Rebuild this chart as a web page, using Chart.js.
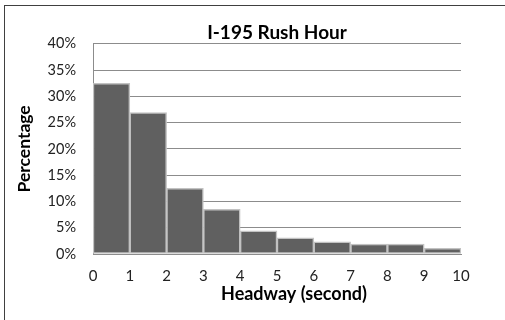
<!DOCTYPE html>
<html>
<head>
<meta charset="utf-8">
<script src="https://cdn.jsdelivr.net/npm/chart.js@4/dist/chart.umd.min.js"></script>
<style>
  html, body { margin: 0; padding: 0; background: #fff; overflow: hidden; }
  #frame { position: absolute; left: 4px; top: 5px; width: 700px; height: 500px;
           border-left: 1.5px solid #404040; border-top: 1.5px solid #404040; }
  #wrap { position: absolute; left: 0; top: 0; width: 505px; height: 320px; }
</style>
</head>
<body>
<div id="frame"></div>
<div id="wrap"><canvas id="c" width="505" height="320"></canvas></div>
<script>
// Headway histogram: one bar per 1-second bin
const binStarts = [0, 1, 2, 3, 4, 5, 6, 7, 8, 9];
const percentages = [32.5, 26.9, 12.5, 8.5, 4.4, 3.1, 2.3, 1.9, 1.9, 1.1];
const xTicks = [0, 1, 2, 3, 4, 5, 6, 7, 8, 9, 10];
const yTicks = [0, 5, 10, 15, 20, 25, 30, 35, 40];
const xAxisTitle = 'Headway (second)';

const FONT = 'Lato, "Open Sans", sans-serif';

const points = binStarts.map((s, i) => ({ x: s + 0.5, y: percentages[i] }));

// The x-axis caption sits a little right of the plot centre, below the tick labels
const xCaption = {
  id: 'xCaption',
  afterDraw(chart) {
    const { ctx, chartArea } = chart;
    ctx.save();
    ctx.font = 'bold 18px ' + FONT;
    ctx.fillStyle = '#000';
    ctx.textAlign = 'center';
    ctx.textBaseline = 'middle';
    ctx.fillText(xAxisTitle, (chartArea.left + chartArea.right) / 2 + 17, chartArea.bottom + 40);
    ctx.restore();
  }
};

new Chart(document.getElementById('c'), {
  type: 'bar',
  data: {
    datasets: [{
      data: points,
      backgroundColor: '#606060',
      borderColor: '#c2c2c2',
      borderWidth: 1.5,
      borderSkipped: false,
      barPercentage: 1,
      categoryPercentage: 1
    }]
  },
  options: {
    responsive: false,
    animation: false,
    layout: { padding: { left: 0, right: 44, top: 0, bottom: 0 } },
    plugins: {
      legend: { display: false },
      tooltip: { enabled: false },
      title: {
        display: true,
        text: 'I-195 Rush Hour',
        fullSize: false,
        color: '#000',
        font: { family: FONT, size: 19, weight: 'bold' },
        padding: { top: 21, bottom: 0 }
      }
    },
    scales: {
      x: {
        type: 'linear',
        min: 0,
        max: 10,
        offset: false,
        afterBuildTicks: (s) => { s.ticks = xTicks.map(v => ({ value: v })); },
        afterFit: (s) => { s.height = 66; },
        grid: { display: true, drawOnChartArea: false, drawTicks: false, offset: false },
        border: { display: true, color: '#8c8c8c', width: 1 },
        ticks: {
          color: '#222',
          font: { family: FONT, size: 15 },
          padding: 13,
          maxRotation: 0
        },
        title: { display: false }
      },
      y: {
        min: 0,
        max: 40,
        afterBuildTicks: (s) => { s.ticks = yTicks.map(v => ({ value: v })); },
        afterFit: (s) => { s.width = 93; },
        grid: { color: '#8c8c8c', lineWidth: 1, drawTicks: false },
        border: { display: true, color: '#8c8c8c', width: 1 },
        ticks: {
          color: '#222',
          font: { family: FONT, size: 14.5 },
          padding: 17,
          callback: (v) => v + '%'
        },
        title: {
          display: true,
          text: 'Percentage',
          color: '#000',
          font: { family: FONT, size: 17.5, weight: 'bold' },
          padding: { top: 14, bottom: 0 }
        }
      }
    }
  },
  plugins: [xCaption]
});
</script>
</body>
</html>
